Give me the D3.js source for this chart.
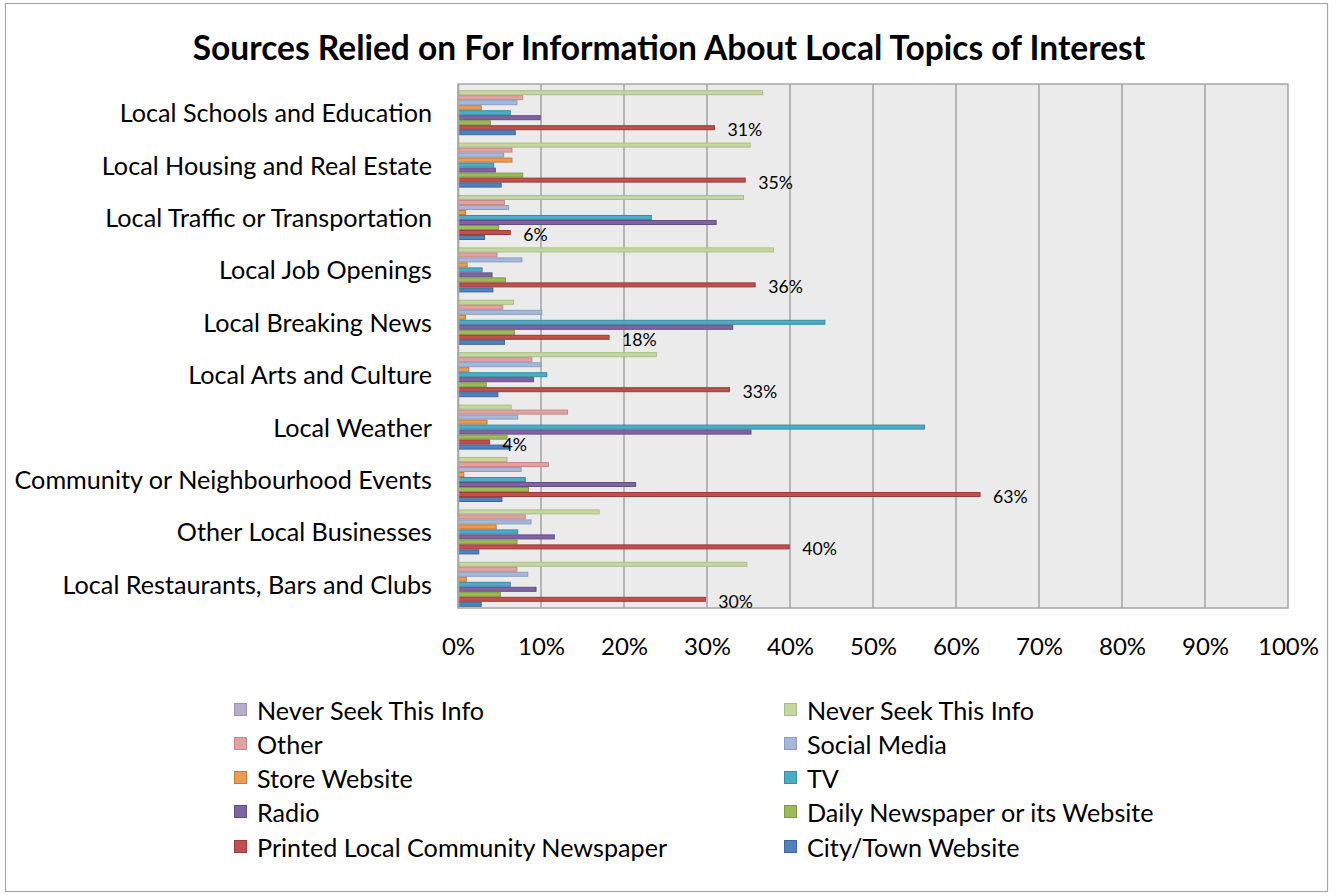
<!DOCTYPE html>
<html>
<head>
<meta charset="utf-8">
<script src="https://cdn.jsdelivr.net/npm/d3@7"></script>
<style>
  html, body { margin: 0; padding: 0; background: #fff; }
  svg { display: block; }
  text { font-family: Lato, "Open Sans", sans-serif; fill: #000; }
</style>
</head>
<body>
<svg id="chart" width="1336" height="896"></svg>
<script>
// ---------- data ----------
const title = "Sources Relied on For Information About Local Topics of Interest";
const categories = [
  "Local Schools and Education",
  "Local Housing and Real Estate",
  "Local Traffic or Transportation",
  "Local Job Openings",
  "Local Breaking News",
  "Local Arts and Culture",
  "Local Weather",
  "Community or Neighbourhood Events",
  "Other Local Businesses",
  "Local Restaurants, Bars and Clubs"
];
const seriesNames = [
  "Never Seek This Info",
  "Never Seek This Info",
  "Other",
  "Social Media",
  "Store Website",
  "TV",
  "Radio",
  "Daily Newspaper or its Website",
  "Printed Local Community Newspaper",
  "City/Town Website"
];
const neverSeekA   = [null, null, null, null, null, null, null, null, null, null];
const neverSeekB   = [36.7, 35.2, 34.4, 38.0, 6.7, 23.9, 6.4, 5.9, 17.0, 34.8];
const other        = [7.8, 6.5, 5.6, 4.7, 5.4, 8.9, 13.2, 10.9, 8.1, 7.1];
const socialMedia  = [7.1, 5.5, 6.1, 7.7, 10.1, 10.0, 7.2, 7.6, 8.8, 8.4];
const storeWebsite = [2.8, 6.5, 0.9, 1.1, 0.9, 1.3, 3.5, 0.7, 4.6, 1.0];
const tv           = [6.3, 4.3, 23.3, 2.9, 44.2, 10.7, 56.2, 8.1, 7.2, 6.3];
const radio        = [9.9, 4.5, 31.1, 4.1, 33.1, 9.1, 35.3, 21.4, 11.6, 9.4];
const dailyPaper   = [3.9, 7.8, 4.9, 5.7, 6.8, 3.4, 5.9, 8.5, 7.1, 5.1];
const printedLocal = [30.9, 34.6, 6.3, 35.8, 18.2, 32.7, 3.8, 62.9, 39.9, 29.8];
const cityWebsite  = [6.9, 5.2, 3.2, 4.2, 5.6, 4.8, 6.1, 5.3, 2.5, 2.8];
const seriesValues = [neverSeekA, neverSeekB, other, socialMedia, storeWebsite, tv, radio, dailyPaper, printedLocal, cityWebsite];
const labeledSeries = 8; // Printed Local Community Newspaper carries data labels
const xTicks = [0, 10, 20, 30, 40, 50, 60, 70, 80, 90, 100];

// ---------- styles ----------
const fills   = ["#B8ABCC", "#C4D7A0", "#DFA3A2", "#A6B8D8", "#EB9A50", "#4BACC6", "#8064A2", "#9BBB59", "#C0504D", "#4F81BD"];
const strokes = ["#9E90B5", "#A9BE82", "#C98886", "#8B9EC2", "#C67A34", "#3A8CA3", "#654D86", "#7E9A42", "#9C3B38", "#3B679C"];
const FONT = "Lato, 'Open Sans', sans-serif";

const svg = d3.select("#chart");
const plot = { left: 458, right: 1288, top: 84, bottom: 608 };

// outer border
svg.append("rect").attr("x", 5.5).attr("y", 3.5).attr("width", 1322).attr("height", 888)
  .attr("fill", "#fff").attr("stroke", "#A6A6A6").attr("stroke-width", 1.2);

// title
svg.append("text").attr("x", 669).attr("y", 47)
  .attr("text-anchor", "middle").attr("dominant-baseline", "central")
  .attr("font-size", 33.5).attr("font-weight", "bold").text(title);

const x = d3.scaleLinear().domain([0, 100]).range([plot.left, plot.right]);
const y0 = d3.scaleBand().domain(categories).range([plot.top, plot.bottom]).padding(0);
const y1 = d3.scaleBand().domain(d3.range(seriesNames.length))
  .range([0, y0.bandwidth()]).paddingInner(0).paddingOuter(0.24);

// plot background
svg.append("rect").attr("x", plot.left).attr("y", plot.top)
  .attr("width", plot.right - plot.left).attr("height", plot.bottom - plot.top)
  .attr("fill", "#EBEBEB");

// gridlines
svg.append("g").selectAll("line").data(xTicks.filter(t => t > 0 && t < 100)).join("line")
  .attr("x1", d => x(d)).attr("x2", d => x(d))
  .attr("y1", plot.top).attr("y2", plot.bottom)
  .attr("stroke", "#A3A3A3").attr("stroke-width", 1.5);

// bars
const groups = svg.append("g").selectAll("g").data(categories).join("g")
  .attr("transform", d => `translate(0,${y0(d)})`);
groups.each(function(cat, ci) {
  const g = d3.select(this);
  seriesValues.forEach((vals, si) => {
    const v = vals[ci];
    if (v == null) return;
    g.append("rect")
      .attr("x", x(0))
      .attr("y", y1(si) + 0.5)
      .attr("width", x(v) - x(0))
      .attr("height", y1.bandwidth() - 1)
      .attr("fill", fills[si])
      .attr("stroke", strokes[si])
      .attr("stroke-width", 1);
  });
});

// plot border
svg.append("rect").attr("x", plot.left).attr("y", plot.top)
  .attr("width", plot.right - plot.left).attr("height", plot.bottom - plot.top)
  .attr("fill", "none").attr("stroke", "#A6A6A6").attr("stroke-width", 1.5);

// data labels
svg.append("g").selectAll("text").data(categories).join("text")
  .attr("x", (d, i) => x(seriesValues[labeledSeries][i]) + 13)
  .attr("y", d => y0(d) + y1(labeledSeries) + y1.bandwidth() / 2 + 2)
  .attr("dominant-baseline", "central")
  .attr("font-size", 17.7)
  .text((d, i) => Math.round(seriesValues[labeledSeries][i]) + "%");

// x axis
const xAxis = svg.append("g").attr("transform", `translate(0,${plot.bottom})`)
  .call(d3.axisBottom(x).tickValues(xTicks).tickSize(0).tickFormat(d => d + "%"));
xAxis.select(".domain").remove();
xAxis.selectAll("text").attr("y", 37).attr("dy", null)
  .attr("dominant-baseline", "central").attr("font-size", 24)
  .attr("font-family", FONT).attr("fill", "#000");

// y axis
const yAxis = svg.append("g").attr("transform", `translate(${plot.left},0)`)
  .call(d3.axisLeft(y0).tickSize(0).tickPadding(26));
yAxis.select(".domain").attr("stroke", "#A6A6A6").attr("stroke-width", 1.5);
yAxis.selectAll("text").attr("dy", null).attr("dominant-baseline", "central")
  .attr("transform", "translate(0,2)")
  .attr("font-size", 25.2)
  .attr("font-family", FONT).attr("fill", "#000");

// legend
const legendCols = [234, 784];
const legendRows = [710, 744, 778, 812, 847];
const legend = svg.append("g").selectAll("g").data(seriesNames).join("g")
  .attr("transform", (d, i) => `translate(${legendCols[i % 2]},${legendRows[Math.floor(i / 2)]})`);
legend.append("rect").attr("x", 0.5).attr("y", -6.5).attr("width", 12).attr("height", 12)
  .attr("fill", (d, i) => fills[i]).attr("stroke", (d, i) => strokes[i]).attr("stroke-width", 1);
legend.append("text").attr("x", 23).attr("y", 0)
  .attr("dominant-baseline", "central").attr("font-size", 25.2).text(d => d);
</script>
</body>
</html>
